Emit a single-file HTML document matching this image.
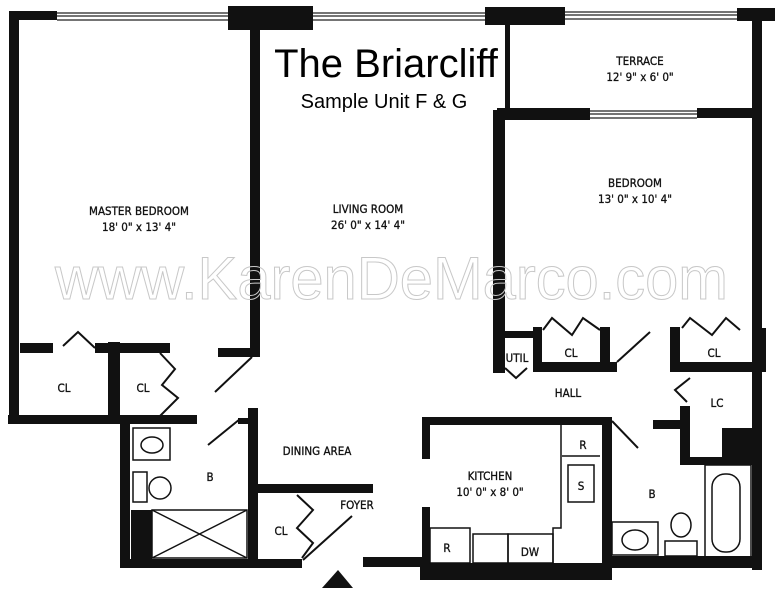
<!DOCTYPE html>
<html><head><meta charset="utf-8"><style>
html,body{margin:0;padding:0;background:#fff}
svg{display:block}
.l{font-family:"DejaVu Sans Condensed","Liberation Sans",sans-serif;font-size:11.5px;fill:#111;text-anchor:middle;stroke:#111;stroke-width:0.3}
</style></head><body>
<svg width="780" height="600" viewBox="0 0 780 600" xmlns="http://www.w3.org/2000/svg">
<rect width="780" height="600" fill="#fff"/>
<g fill="#111">
<rect x="9" y="11" width="48" height="9"/>
<rect x="228" y="6" width="85" height="24"/>
<rect x="485" y="7" width="80" height="18"/>
<rect x="737" y="8" width="38" height="13"/>
<rect x="9" y="11" width="10" height="412"/>
<rect x="250" y="20" width="10" height="336"/>
<rect x="505" y="22" width="5" height="88"/>
<rect x="497" y="108" width="93" height="12"/>
<rect x="697" y="108" width="64" height="10"/>
<rect x="752" y="10" width="10" height="560"/>
<rect x="752" y="328" width="14" height="44"/>
<rect x="493" y="110" width="12" height="263"/>
<rect x="20" y="343" width="33" height="10"/>
<rect x="95" y="343" width="75" height="10"/>
<rect x="108" y="342" width="12" height="80"/>
<rect x="218" y="348" width="42" height="9"/>
<rect x="8" y="415" width="189" height="9"/>
<rect x="120" y="418" width="10" height="150"/>
<rect x="120" y="559" width="182" height="9"/>
<rect x="248" y="408" width="10" height="158"/>
<rect x="131" y="510" width="21" height="52"/>
<rect x="238" y="418" width="10" height="6"/>
<rect x="258" y="484" width="115" height="9"/>
<rect x="363" y="557" width="60" height="10"/>
<rect x="420" y="563" width="192" height="17"/>
<rect x="423" y="417" width="189" height="8"/>
<rect x="422" y="417" width="8" height="42"/>
<rect x="422" y="507" width="8" height="60"/>
<rect x="602" y="420" width="10" height="158"/>
<rect x="505" y="331" width="28" height="7"/>
<rect x="533" y="327" width="9" height="45"/>
<rect x="533" y="362" width="84" height="10"/>
<rect x="600" y="327" width="10" height="45"/>
<rect x="670" y="327" width="10" height="45"/>
<rect x="670" y="362" width="90" height="10"/>
<rect x="680" y="406" width="10" height="59"/>
<rect x="680" y="457" width="80" height="8"/>
<rect x="653" y="420" width="30" height="9"/>
<rect x="722" y="428" width="32" height="37"/>
<rect x="610" y="556" width="150" height="12"/>
<polygon points="322,588 338,570 353,588"/>
</g>
<g stroke="#222" stroke-width="1.2" fill="none">
<line x1="57" y1="13" x2="228" y2="13"/><line x1="57" y1="16" x2="228" y2="16"/><line x1="57" y1="20" x2="228" y2="20"/>
<line x1="313" y1="13" x2="485" y2="13"/><line x1="313" y1="16" x2="485" y2="16"/><line x1="313" y1="20" x2="485" y2="20"/>
<line x1="565" y1="12" x2="737" y2="12"/><line x1="565" y1="15" x2="737" y2="15"/><line x1="565" y1="19" x2="737" y2="19"/>
<line x1="590" y1="111" x2="697" y2="111"/><line x1="590" y1="114" x2="697" y2="114"/><line x1="590" y1="118" x2="697" y2="118"/>
</g>
<g stroke="#111" stroke-width="2" fill="none">
<polyline points="63,346 78,332 95,348"/>
<polyline points="160,353 175,369 162,385 178,398 160,416"/>
<line x1="215" y1="392" x2="252" y2="357"/>
<line x1="208" y1="445" x2="240" y2="419"/>
<polyline points="297,495 313,510 297,528 313,543 302,558"/>
<line x1="303" y1="560" x2="352" y2="516"/>
<polyline points="543,330 552,318 572,335 583,318 600,330"/>
<polyline points="682,328 690,318 712,335 726,318 740,330"/>
<polyline points="505,368 516,378 527,368"/>
<line x1="617" y1="362" x2="650" y2="332"/>
<polyline points="690,378 675,390 687,402"/>
<line x1="612" y1="421" x2="638" y2="448"/>
</g>
<g stroke="#111" stroke-width="1.5" fill="none">
<rect x="133" y="428" width="37" height="32"/>
<ellipse cx="152" cy="445" rx="11" ry="8"/>
<rect x="133" y="472" width="14" height="30"/>
<circle cx="160" cy="488" r="11"/>
<rect x="152" y="510" width="95" height="48"/>
<line x1="152" y1="510" x2="247" y2="558"/><line x1="247" y1="510" x2="152" y2="558"/>
<polyline points="561,425 561,528 553,528 553,563"/>
<line x1="562" y1="456" x2="600" y2="456"/>
<rect x="568" y="465" width="26" height="37"/>
<rect x="430" y="528" width="40" height="35"/>
<rect x="473" y="534" width="35" height="29"/>
<rect x="508" y="534" width="45" height="29"/>
<rect x="612" y="522" width="46" height="33"/>
<ellipse cx="635" cy="540" rx="13" ry="10"/>
<rect x="665" y="541" width="32" height="15"/>
<ellipse cx="681" cy="525" rx="10" ry="12"/>
<rect x="705" y="465" width="46" height="92"/>
<rect x="712" y="474" width="28" height="78" rx="13"/>
</g>
<text x="386" y="77" font-family="Liberation Sans,sans-serif" font-size="40" text-anchor="middle" fill="#000">The Briarcliff</text>
<text x="384" y="108" font-family="Liberation Sans,sans-serif" font-size="20" text-anchor="middle" fill="#000">Sample Unit F &amp; G</text>
<text class="l" x="640" y="65">TERRACE</text>
<text class="l" x="640" y="81">12' 9" x 6' 0"</text>
<text class="l" x="635" y="187">BEDROOM</text>
<text class="l" x="635" y="203">13' 0" x 10' 4"</text>
<text class="l" x="139" y="215">MASTER BEDROOM</text>
<text class="l" x="139" y="231">18' 0" x 13' 4"</text>
<text class="l" x="368" y="213">LIVING ROOM</text>
<text class="l" x="368" y="229">26' 0" x 14' 4"</text>
<text class="l" x="64" y="392">CL</text>
<text class="l" x="143" y="392">CL</text>
<text class="l" x="210" y="481">B</text>
<text class="l" x="317" y="455">DINING AREA</text>
<text class="l" x="357" y="509">FOYER</text>
<text class="l" x="281" y="535">CL</text>
<text class="l" x="517" y="362">UTIL</text>
<text class="l" x="571" y="357">CL</text>
<text class="l" x="714" y="357">CL</text>
<text class="l" x="568" y="397">HALL</text>
<text class="l" x="717" y="407">LC</text>
<text class="l" x="583" y="449">R</text>
<text class="l" x="581" y="490">S</text>
<text class="l" x="490" y="480">KITCHEN</text>
<text class="l" x="490" y="496">10' 0" x 8' 0"</text>
<text class="l" x="447" y="552">R</text>
<text class="l" x="530" y="556">DW</text>
<text class="l" x="652" y="498">B</text>
<text x="55" y="299" font-family="Liberation Sans,sans-serif" font-size="60" textLength="673" lengthAdjust="spacingAndGlyphs" fill="none" stroke="#c8c8c8" stroke-width="1">www.KarenDeMarco.com</text>
</svg>
</body></html>
